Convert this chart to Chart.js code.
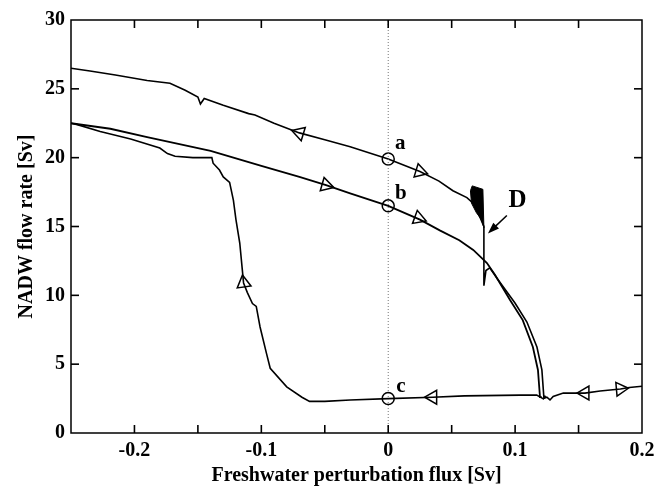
<!DOCTYPE html>
<html>
<head>
<meta charset="utf-8">
<script src="https://cdn.jsdelivr.net/npm/chart.js@4.4.1/dist/chart.umd.min.js"></script>
<style>
  html, body { margin: 0; padding: 0; background: #fff; }
  canvas { display: block; }
</style>
</head>
<body>
<canvas id="nadwChart" width="661" height="487"></canvas>
<script>
// upper branch (a), ends with the collapse at D
const branchAX = [-0.25, -0.235, -0.215, -0.19, -0.172, -0.16, -0.15, -0.148, -0.145, -0.13, -0.11, -0.105, -0.09, -0.07, -0.05, -0.03, 0, 0.025, 0.04, 0.051, 0.062, 0.068, 0.0754, 0.0754, 0.077, 0.08, 0.086, 0.0999, 0.1093, 0.1172, 0.1211, 0.1227, 0.124];
const branchAY = [26.5, 26.3, 26.0, 25.6, 25.4, 24.9, 24.4, 23.9, 24.3, 23.8, 23.2, 23.1, 22.5, 21.8, 21.3, 20.8, 19.9, 19.0, 18.3, 17.6, 17.1, 16.6, 15.0, 10.7, 11.8, 12.0, 11.2, 9.44, 8.06, 6.25, 4.58, 2.54, 2.7];

// middle branch (b)
const branchBX = [-0.25, -0.219, -0.19, -0.14, -0.1, -0.07, -0.049, -0.03, 0, 0.025, 0.041, 0.056, 0.067, 0.075, 0.0778, 0.0841, 0.096, 0.106, 0.114, 0.118, 0.1196, 0.121];
const branchBY = [22.5, 22.1, 21.5, 20.5, 19.4, 18.6, 18.0, 17.4, 16.5, 15.5, 14.7, 14.0, 13.3, 12.6, 12.35, 11.5, 9.66, 8.2, 6.25, 4.58, 2.6, 2.6];

// lower branch (c), traced from right to left and back up
const branchCX = [0.2, 0.19, 0.183, 0.167, 0.155, 0.146, 0.138, 0.13, 0.1275, 0.125, 0.122, 0.117, 0.104, 0.06, 0.035, 0, -0.03, -0.05, -0.062, -0.068, -0.08, -0.093, -0.096, -0.101, -0.104, -0.107, -0.111, -0.114, -0.117, -0.12, -0.122, -0.125, -0.13, -0.133, -0.138, -0.139, -0.154, -0.168, -0.174, -0.18, -0.203, -0.227, -0.245, -0.25];
const branchCY = [3.4, 3.3, 3.2, 3.05, 2.9, 2.9, 2.9, 2.65, 2.4, 2.6, 2.5, 2.75, 2.75, 2.7, 2.6, 2.5, 2.4, 2.3, 2.3, 2.6, 3.35, 4.7, 5.8, 7.7, 9.2, 9.4, 10.2, 10.9, 13.8, 15.5, 16.9, 18.2, 18.6, 19.1, 19.6, 20.0, 20.0, 20.1, 20.3, 20.7, 21.35, 21.9, 22.4, 22.5];

// oscillation blob just before D
const blobX = [0.0662, 0.0746, 0.0754, 0.0735, 0.0695, 0.0656, 0.0648, 0.0662];
const blobY = [17.95, 17.7, 14.9, 15.5, 16.0, 16.7, 17.6, 17.95];

// open circles a, b, c
const circleX = [0, 0, 0];
const circleY = [19.9, 16.5, 2.5];

// direction triangles
const triX = [-0.07, 0.025, -0.049, 0.024, -0.114, 0.035, 0.155, 0.183];
const triY = [21.8, 19.0, 18.0, 15.6, 10.9, 2.6, 2.9, 3.2];
const triDir = [-73, 107, 106, 110, -8, -90, -90, 85];

// labels
const labelText = ['a', 'b', 'c'];
const labelX = [0.0095, 0.01, 0.01];
const labelY = [21.0, 17.4, 3.35];

const xTickLabels = [-0.2, -0.1, 0, 0.1, 0.2];

const serif = '"Liberation Serif", "DejaVu Serif", serif';

function pts(xs, ys) {
    return xs.map((x, i) => ({ x: x, y: ys[i] }));
}

function seg(c, x0, y0, x1, y1) {
    c.beginPath();
    c.moveTo(x0, y0);
    c.lineTo(x1, y1);
    c.stroke();
}

const framePlugin = {
    id: 'frame',
    beforeDraw(chart) {
        const c = chart.ctx;
        c.save();
        c.fillStyle = '#fff';
        c.fillRect(0, 0, chart.width, chart.height);
        c.restore();
    },
    afterDraw(chart) {
        const c = chart.ctx;
        const a = chart.chartArea;
        const xs = chart.scales.x, ys = chart.scales.y;
        c.save();
        c.setLineDash([]);
        c.strokeStyle = '#000';
        c.lineWidth = 1.5;
        c.strokeRect(a.left, a.top, a.right - a.left, a.bottom - a.top);
        // inward ticks
        c.lineWidth = 1.6;
        for (let k = 1; k < 9; k++) {
            const px = xs.getPixelForValue(-0.25 + k * 0.05);
            seg(c, px, a.bottom, px, a.bottom - 8);
            seg(c, px, a.top, px, a.top + 8);
        }
        for (let k = 1; k < 6; k++) {
            const py = ys.getPixelForValue(k * 5);
            seg(c, a.left, py, a.left + 8, py);
            seg(c, a.right, py, a.right - 8, py);
        }

        // letters a, b, c
        c.fillStyle = '#000';
        c.font = 'bold 21px ' + serif;
        c.textAlign = 'center';
        c.textBaseline = 'middle';
        labelText.forEach((t, i) => {
            c.fillText(t, xs.getPixelForValue(labelX[i]), ys.getPixelForValue(labelY[i]));
        });
        c.font = 'bold 25px ' + serif;
        c.fillText('D', xs.getPixelForValue(0.102), ys.getPixelForValue(16.9));

        // arrow pointing at D
        const x0 = xs.getPixelForValue(0.0935), y0 = ys.getPixelForValue(15.8);
        const x1 = xs.getPixelForValue(0.0786), y1 = ys.getPixelForValue(14.5);
        const ang = Math.atan2(y1 - y0, x1 - x0);
        c.lineWidth = 1.5;
        seg(c, x0, y0, x1 - Math.cos(ang) * 8, y1 - Math.sin(ang) * 8);
        c.beginPath();
        c.moveTo(x1, y1);
        c.lineTo(x1 - Math.cos(ang - 0.35) * 12, y1 - Math.sin(ang - 0.35) * 12);
        c.lineTo(x1 - Math.cos(ang + 0.35) * 12, y1 - Math.sin(ang + 0.35) * 12);
        c.closePath();
        c.fill();
        c.restore();
    }
};

const ctx = document.getElementById('nadwChart').getContext('2d');
new Chart(ctx, {
    type: 'scatter',
    data: {
        datasets: [
            {
                label: 'zero',
                data: pts([0, 0], [0, 30]),
                showLine: true,
                borderColor: '#777',
                borderWidth: 1,
                borderDash: [1, 2],
                pointRadius: 0
            },
            {
                label: 'blob',
                data: pts(blobX, blobY),
                showLine: true,
                borderColor: '#000',
                backgroundColor: '#000',
                borderWidth: 1,
                fill: 'shape',
                pointRadius: 0
            },
            {
                label: 'a',
                data: pts(branchAX, branchAY),
                showLine: true,
                borderColor: '#000',
                borderWidth: 1.6,
                pointRadius: 0
            },
            {
                label: 'b',
                data: pts(branchBX, branchBY),
                showLine: true,
                borderColor: '#000',
                borderWidth: 1.8,
                pointRadius: 0
            },
            {
                label: 'c',
                data: pts(branchCX, branchCY),
                showLine: true,
                borderColor: '#000',
                borderWidth: 1.6,
                pointRadius: 0
            },
            {
                label: 'triangles',
                data: pts(triX, triY),
                pointStyle: 'triangle',
                rotation: triDir,
                pointRadius: 8,
                borderColor: '#000',
                backgroundColor: '#fff',
                borderWidth: 1.5
            },
            {
                label: 'circles',
                data: pts(circleX, circleY),
                pointStyle: 'circle',
                pointRadius: 6,
                borderColor: '#000',
                backgroundColor: '#fff',
                borderWidth: 1.5
            }
        ]
    },
    options: {
        responsive: false,
        animation: false,
        layout: { padding: { top: 20, right: 19, left: 0, bottom: 0 } },
        plugins: {
            legend: { display: false },
            tooltip: { enabled: false }
        },
        scales: {
            x: {
                type: 'linear',
                min: -0.25,
                max: 0.2,
                afterFit: s => { s.height = 54; },
                afterBuildTicks: s => { s.ticks = xTickLabels.map(v => ({ value: v })); },
                grid: { display: false, drawTicks: false },
                border: { display: false },
                ticks: {
                    color: '#000',
                    padding: 6,
                    font: { family: serif, size: 20, weight: 'bold' },
                    callback: v => (Math.abs(v) < 1e-9 ? '0' : String(Math.round(v * 10) / 10))
                },
                title: {
                    display: true,
                    text: 'Freshwater perturbation flux [Sv]',
                    color: '#000',
                    padding: 0,
                    font: { family: serif, size: 20, weight: 'bold', lineHeight: 1.1 }
                }
            },
            y: {
                type: 'linear',
                min: 0,
                max: 30,
                afterFit: s => { s.width = 71; },
                grid: { display: false, drawTicks: false },
                border: { display: false },
                ticks: {
                    color: '#000',
                    stepSize: 5,
                    padding: 6,
                    font: { family: serif, size: 20, weight: 'bold' }
                },
                title: {
                    display: true,
                    text: 'NADW flow rate [Sv]',
                    color: '#000',
                    padding: { top: 15, bottom: 0 },
                    font: { family: serif, size: 20, weight: 'bold', lineHeight: 1.2 }
                }
            }
        }
    },
    plugins: [framePlugin]
});
</script>
</body>
</html>
